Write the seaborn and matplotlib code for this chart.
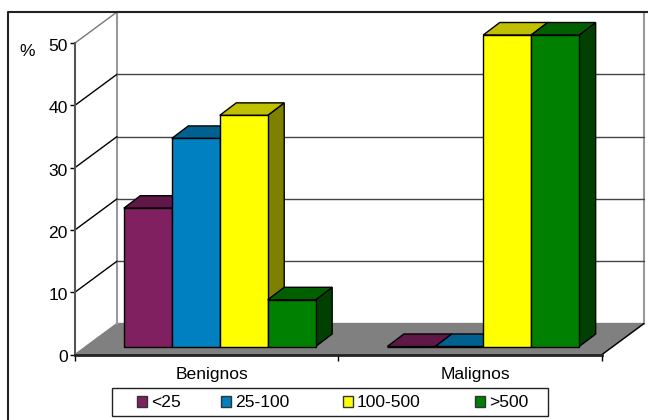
import matplotlib
matplotlib.use("Agg")
import matplotlib.colors as mcolors
import matplotlib.pyplot as plt
import matplotlib.transforms as mtrans
from matplotlib.lines import Line2D
from matplotlib.patches import Polygon, Rectangle
import pandas as pd
import seaborn as sns

groups = ["Benignos", "Malignos"]
sizes = ["<25", "25-100", "100-500", ">500"]
benignos = [22.2, 33.4, 37.1, 7.5]
malignos = [0, 0, 50, 50]

face_colors = ["#802060", "#0080C0", "#FFFF00", "#008000"]
top_colors = ["#601848", "#006090", "#C0C000", "#006000"]
side_colors = ["#401030", "#004060", "#808000", "#004000"]

W, H = 648, 420
FONT_SIZE = 12.6
sns.set_theme(style="white", rc={
    "text.color": "black", "axes.labelcolor": "black",
    "xtick.color": "black", "ytick.color": "black",
    "axes.grid": False,
})
plt.rcParams["font.family"] = ["Liberation Sans", "DejaVu Sans"]

fig = plt.figure(figsize=(W / 100, H / 100), dpi=100)
ax = fig.add_axes([75 / W, (H - 354.5) / H, 527 / W, 311.5 / H])
ax.patch.set_alpha(0)

frame = pd.DataFrame({
    "group": [g for g in groups for _ in sizes],
    "size": sizes * 2,
    "value": benignos + malignos,
})
sns.barplot(data=frame, x="group", y="value", hue="size", order=groups,
            hue_order=sizes, palette=face_colors, saturation=1, width=0.728,
            edgecolor="black", linewidth=1, legend=False, errorbar=None, ax=ax)
ax.set_xlim(-0.5, 1.5)
ax.set_ylim(0, 50)
bars = sorted([p for p in ax.patches if isinstance(p, Rectangle)], key=lambda p: p.get_x())

# Oblique depth, expressed in data units per pixel of screen offset
ux = 2 / 527
uy = 50 / 311.5
wall_dx, wall_dy = 42 * ux, 31 * uy
bar_front_dx, bar_front_dy = 13 * ux, 8 * uy
bar_dx, bar_dy = 16.5 * ux, 12.5 * uy

x0, x1 = ax.get_xlim()

# Floor
ax.add_patch(Polygon([(x0, 0), (x0 + wall_dx, wall_dy), (x1 + wall_dx, wall_dy), (x1, 0)],
                     closed=True, facecolor="#808080", edgecolor="#808080",
                     linewidth=1, clip_on=False, zorder=1))

# Back wall outline and left wall edge
ax.plot([x0 + wall_dx, x0 + wall_dx, x1 + wall_dx, x1 + wall_dx],
        [wall_dy, 50 + wall_dy, 50 + wall_dy, wall_dy],
        color="#999999", lw=1.5, clip_on=False, zorder=1.5)
ax.plot([x1, x1 + wall_dx], [0, wall_dy], color="black", lw=1, clip_on=False, zorder=1.5)

# Gridlines run along the left wall then across the back wall
for v in [10, 20, 30, 40, 50]:
    col = "#777777" if v == 50 else "black"
    ax.plot([x0, x0 + wall_dx], [v, v + wall_dy], color=col, lw=1, clip_on=False, zorder=1.6)
    if v < 50:
        ax.plot([x0 + wall_dx, x1 + wall_dx], [v + wall_dy, v + wall_dy],
                color="#444444", lw=1, clip_on=False, zorder=1.6)

# Extrude each bar: shift the front face onto the floor, then add side and top
for i, bar in enumerate(bars):
    size_index = face_colors.index(mcolors.to_hex(bar.get_facecolor()).upper())
    bar.set_x(bar.get_x() + bar_front_dx)
    bar.set_y(bar_front_dy)
    bar.set_clip_on(False)
    bar.set_zorder(3 + i)
    left, right = bar.get_x(), bar.get_x() + bar.get_width()
    bottom, top = bar_front_dy, bar_front_dy + bar.get_height()
    ax.add_patch(Polygon([(right, bottom), (right + bar_dx, bottom + bar_dy),
                          (right + bar_dx, top + bar_dy), (right, top)],
                         closed=True, facecolor=side_colors[size_index], edgecolor="black",
                         linewidth=1, clip_on=False, zorder=3 + i - 0.2))
    ax.add_patch(Polygon([(left, top), (left + bar_dx, top + bar_dy),
                          (right + bar_dx, top + bar_dy), (right, top)],
                         closed=True, facecolor=top_colors[size_index], edgecolor="black",
                         linewidth=1, clip_on=False, zorder=3 + i - 0.1))

# Axes furniture
for name in ["top", "right"]:
    ax.spines[name].set_visible(False)
ax.spines["left"].set_color("#555555")
ax.spines["left"].set_linewidth(1.5)
ax.spines["bottom"].set_color("#222222")
ax.spines["bottom"].set_linewidth(2)
for spine in ax.spines.values():
    spine.set_zorder(2)

ax.set_xlabel("")
ax.set_ylabel("")
ax.set_yticks([0, 10, 20, 30, 40, 50])
ax.tick_params(axis="y", length=3.6, width=1, pad=1.6, labelsize=FONT_SIZE, left=True)
ax.set_xticks([0, 1], groups)
ax.set_xticks([-0.5, 0.5, 1.5], minor=True)
ax.tick_params(axis="x", which="major", length=0, pad=9, labelsize=FONT_SIZE)
ax.tick_params(axis="x", which="minor", length=4, width=1, bottom=True)

for lab in ax.get_yticklabels():
    lab.set_transform(lab.get_transform() + mtrans.Affine2D().translate(0, -2))
for lab in ax.get_xticklabels():
    lab.set_transform(lab.get_transform() + mtrans.Affine2D().translate(5, 0))


def px(x, y):
    return x / W, (H - y) / H


fig.text(*px(27.5, 51.5), "%", fontsize=FONT_SIZE, ha="center", va="center")

# Outer chart border, open towards the image edges
fig.add_artist(Line2D([8 / W, 8 / W, 1], [0, (H - 11.5) / H, (H - 11.5) / H],
                      color="#222222", lw=1.5, transform=fig.transFigure))

# Legend strip
lx, ly = px(112, 416)
fig.add_artist(Rectangle((lx, ly), 436 / W, 28 / H, transform=fig.transFigure,
                         facecolor="white", edgecolor="#222222", lw=1))
swatch_left = [137, 221, 343, 475]
for label, color, xs in zip(sizes, face_colors, swatch_left):
    sx, sy = px(xs, 407)
    fig.add_artist(Rectangle((sx, sy), 10 / W, 11 / H, transform=fig.transFigure,
                             facecolor=color, edgecolor="#333333", lw=1))
    tx, ty = px(xs + 14, 402.5)
    fig.text(tx, ty, label, fontsize=FONT_SIZE, ha="left", va="center")

fig.savefig("out.png", dpi=100)
